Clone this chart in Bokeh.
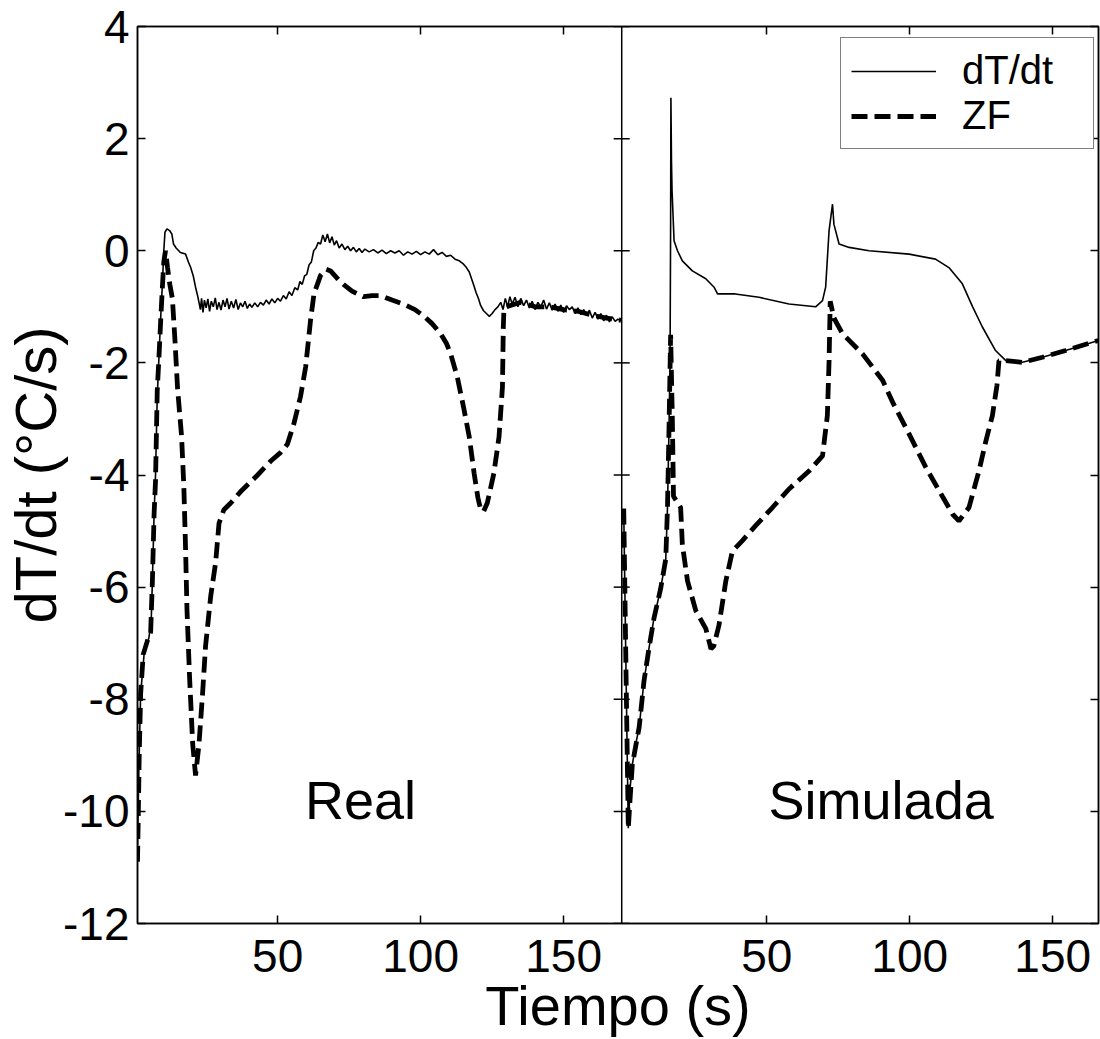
from bokeh.plotting import figure
from bokeh.models import (FixedTicker, LinearAxis, Span, Legend, LegendItem,
                          Range1d, Label)
from bokeh.embed import file_html
from bokeh.resources import INLINE

# ---------------- data ----------------
# Panel "Real"
real_dt_t = [1.0, 1.5, 2.1, 3.3, 5.0, 5.8, 6.2, 6.8, 7.3, 7.9, 8.5, 9.1, 9.7, 10.2, 10.6,
             11.3, 12.2, 13.0, 13.6, 14.5, 16.0, 17.8, 18.8, 19.6, 20.5, 21.3, 22.0, 22.5,
             23.0, 23.4, 23.9, 24.4, 25.0, 25.6, 26.2, 26.8, 27.5, 28.2, 28.8, 29.5, 30.2,
             30.9, 31.6, 32.3, 33.0, 33.8, 34.6, 35.4, 36.2, 37.0, 37.8, 38.6, 39.4, 40.2,
             41.0, 42.0, 43.0, 44.0, 45.0, 46.0, 47.0, 48.0, 49.0, 50.0, 51.0, 52.0, 53.0,
             54.0, 55.0, 56.0, 57.0, 57.8, 58.6, 59.4, 60.2, 61.0, 61.8, 62.6, 63.4, 64.2,
             65.0, 65.8, 66.6, 67.4, 68.2, 69.0, 69.8, 70.6, 71.5, 72.5, 73.5, 74.5, 75.5,
             76.5, 77.5, 78.5, 79.5, 80.5, 82.0, 83.5, 85.0, 86.5, 88.0, 89.5, 91.0, 92.5,
             94.0, 95.5, 97.0, 98.5, 100.0, 101.5, 103.0, 104.5, 106.0, 107.5, 109.0, 110.5,
             112.0, 113.5, 115.0, 116.0, 117.0, 117.8, 118.6, 119.4, 120.2, 121.0, 122.0,
             123.0, 124.0, 125.0, 126.0, 127.0, 128.0, 128.8, 129.6, 130.4, 131.2, 132.0,
             133.0, 134.0, 135.0, 136.0, 137.0, 138.0, 139.0, 140.0, 141.0, 142.0, 143.0,
             144.0, 145.0, 146.0, 147.0, 148.0, 149.0, 150.0, 151.0, 152.0, 153.0, 154.0,
             155.0, 156.0, 157.0, 158.0, 159.0, 160.0, 161.0, 162.0, 163.0, 164.0, 165.0,
             166.0, 167.0, 168.0, 169.0, 170.0]
real_dt_v = [-10.6, -9.2, -7.9, -7.2, -6.9, -6.6, -5.9, -4.7, -4.0, -2.6, -1.9, -1.2, -0.6, 0.0, 0.33,
             0.39, 0.36, 0.30, 0.12, 0.05, -0.03, -0.06, -0.20, -0.30, -0.45, -0.65, -0.80, -0.92,
             -1.05, -0.85, -1.10, -0.88, -1.02, -0.86, -1.08, -0.90, -1.00, -0.84, -1.05, -0.92, -1.06,
             -0.88, -1.00, -0.85, -1.04, -0.90, -1.02, -0.87, -1.05, -0.93, -1.00, -0.90, -1.03, -0.95,
             -1.01, -0.93, -1.00, -0.92, -0.97, -0.88, -0.95, -0.86, -0.93, -0.85, -0.90, -0.80, -0.86,
             -0.73, -0.80, -0.66, -0.70, -0.55, -0.60, -0.45, -0.42, -0.25, -0.20, 0.00, 0.05, 0.15,
             0.12, 0.28, 0.16, 0.30, 0.14, 0.25, 0.10, 0.18, 0.05, 0.12, 0.02, 0.08, 0.00,
             0.06, -0.02, 0.04, -0.03, 0.03, -0.02, 0.02, -0.04, 0.01, -0.05, 0.00, -0.04, 0.00,
             -0.08, -0.02, -0.06, -0.01, -0.07, -0.02, -0.06, 0.02, -0.07, -0.03, -0.10, -0.08,
             -0.15, -0.18, -0.24, -0.30, -0.38, -0.50, -0.62, -0.75, -0.85, -0.98, -1.07,
             -1.12, -1.17, -1.12, -1.05, -1.00, -0.92, -1.05, -0.85, -1.00, -0.82, -0.95,
             -0.83, -1.00, -0.85, -0.98, -0.88, -1.02, -0.90, -1.05, -0.92, -1.00, -0.88,
             -1.04, -0.93, -1.06, -0.95, -1.08, -0.97, -1.10, -0.98, -1.05, -1.00, -1.12,
             -1.02, -1.14, -1.05, -1.15, -1.06, -1.20, -1.10, -1.22, -1.12, -1.25, -1.15,
             -1.27, -1.18, -1.26, -1.22, -1.25]

real_zf_t = [1.0, 1.3, 1.6, 2.1, 3.0, 4.5, 5.6, 6.2, 6.8, 7.3, 7.9, 8.5, 9.1, 9.7, 10.2, 10.8,
             11.5, 12.3, 13.2, 14.1, 15.0, 16.4, 17.2, 17.8, 18.3, 19.2, 20.3, 21.3, 22.5, 23.7,
             24.8, 26.6, 28.3, 29.5, 31.2, 33.6, 37.0, 40.0, 43.0, 47.6, 51.0, 53.4, 55.7, 58.0,
             59.8, 61.5, 62.7, 65.0, 67.0, 68.5, 71.0, 73.0, 76.0, 80.0, 83.0, 86.0, 90.0, 94.0,
             98.0, 101.0, 104.0, 107.0, 109.0, 110.5, 112.8, 115.0, 117.0, 118.7, 120.0, 121.0,
             122.0, 123.3, 125.6, 127.4, 128.6, 128.9, 129.1, 130.0, 135.0, 140.0, 145.0, 150.0,
             155.0, 160.0, 165.0, 170.0]
real_zf_v = [-10.9, -10.0, -9.0, -7.9, -7.2, -6.95, -6.8, -5.9, -4.7, -4.1, -2.5, -1.9, -1.25, -0.65, -0.2, 0.0,
             -0.3, -0.6, -0.85, -1.6, -2.45, -3.3, -4.2, -5.3, -6.4, -7.6, -8.8, -9.36, -8.8, -7.94,
             -7.05, -6.16, -5.57, -4.86, -4.62, -4.5, -4.3, -4.15, -4.0, -3.75, -3.6, -3.45, -3.08, -2.6,
             -2.07, -1.24, -0.77, -0.44, -0.33, -0.36, -0.5, -0.6, -0.72, -0.82, -0.8, -0.8, -0.88, -0.95,
             -1.05, -1.16, -1.3, -1.48, -1.65, -1.84, -2.25, -2.79, -3.32, -3.97, -4.4, -4.62,
             -4.65, -4.5, -3.97, -3.32, -2.43, -1.36, -1.07, -1.0, -0.92, -1.0, -1.0, -1.05,
             -1.08, -1.15, -1.2, -1.24]

# Panel "Simulada"
sim_dt_t = [0.0, 0.8, 1.6, 2.2, 3.0, 4.2, 5.4, 7.1, 8.9, 10.6, 12.9, 14.7, 15.3, 15.8, 16.2,
            16.4, 16.5, 16.7, 16.9, 17.6, 18.8, 20.5, 24.0, 28.7, 31.6, 32.8, 39.0, 47.3, 57.8,
            67.1, 69.5, 70.6, 71.8, 73.0, 73.5, 75.3, 78.8, 85.8, 99.8, 109.0, 113.7, 118.4,
            122.0, 125.4, 130.0, 133.6, 139.4, 146.4, 154.5, 166.0]
sim_dt_v = [-4.6, -7.5, -10.3, -9.6, -9.17, -8.8, -8.5, -7.67, -7.07, -6.55, -6.03, -5.5, -4.58, -3.27, -1.96,
            0.5, 2.73, 1.6, 1.07, 0.18, 0.0, -0.18, -0.36, -0.5, -0.65, -0.77, -0.77, -0.83, -0.95,
            -1.0, -0.89, -0.65, 0.36, 0.83, 0.47, 0.12, 0.06, 0.0, -0.06, -0.15, -0.3, -0.59,
            -1.0, -1.36, -1.78, -1.96, -1.99, -1.9, -1.78, -1.6]

sim_zf_t = [0.0, 0.8, 1.6, 2.2, 3.0, 5.4, 7.1, 8.9, 10.6, 12.9, 14.7, 15.3, 15.8, 16.4, 17.0,
            17.4, 19.9, 20.5, 22.3, 25.2, 28.7, 30.5, 31.5, 33.3, 35.7, 38.0, 41.5, 46.2, 52.0,
            57.8, 64.8, 69.5, 71.2, 71.8, 72.2, 73.5, 76.5, 83.5, 90.5, 94.0, 99.8, 105.6,
            111.4, 115.0, 117.2, 120.7, 124.2, 126.6, 128.9, 130.5, 131.2, 133.6, 139.4, 146.4,
            154.5, 166.0]
sim_zf_v = [-4.6, -7.5, -10.3, -9.8, -9.17, -8.5, -7.67, -7.07, -6.55, -6.03, -5.5, -4.58, -3.27, -1.5, -3.0,
            -4.38, -4.58, -5.24, -5.89, -6.42, -6.74, -7.1, -7.05, -6.68, -5.89, -5.36, -5.17, -4.9, -4.58,
            -4.25, -3.93, -3.66, -2.94, -1.96, -0.9, -1.2, -1.48, -1.84, -2.31, -2.7, -3.27, -3.86,
            -4.38, -4.7, -4.82, -4.58, -3.93, -3.4, -2.94, -2.4, -1.96, -1.96, -1.99, -1.9,
            -1.78, -1.6]

x_tick_values = [50, 100, 150]
x_tick_labels = ["50", "100", "150"]
y_tick_values = [-12, -10, -8, -6, -4, -2, 0, 2, 4]
y_tick_labels = ["-12", "-10", "-8", "-6", "-4", "-2", "0", "2", "4"]
panel_names = ["Real", "Simulada"]
series_names = ["dT/dt", "ZF"]

# ---------------- layout of the two panels on one shared frame ----------------
FONT = "Liberation Sans"
X_START = 1.0        # left edge of panel "Real"
DIVIDER = 170.3      # boundary between panels (in combined x units)
OFFSET = 171.0       # where t=0 of panel "Simulada" sits
X_END = 337.0

p = figure(width=1100, height=1039,
           x_range=Range1d(X_START, X_END), y_range=Range1d(-12, 4),
           output_backend="svg", toolbar_location=None,
           min_border_left=137, min_border_right=2,
           min_border_top=26, min_border_bottom=115)
p.grid.visible = False
p.background_fill_color = "white"
p.border_fill_color = "white"
p.outline_line_color = "black"
p.outline_line_width = 1.5

ticks_comb = x_tick_values + [OFFSET + v for v in x_tick_values]
overrides = {}
for v, lab in zip(x_tick_values, x_tick_labels):
    overrides[v] = lab
    overrides[OFFSET + v] = lab
y_over = {v: lab for v, lab in zip(y_tick_values, y_tick_labels)}


def style_axis(ax, show_labels=True):
    ax.axis_line_color = "black"
    ax.axis_line_width = 1.5
    ax.major_tick_line_color = "black"
    ax.major_tick_line_width = 1.5
    ax.major_tick_in = 8
    ax.major_tick_out = 0
    ax.minor_tick_line_color = None
    ax.major_label_text_font = FONT
    ax.major_label_text_font_size = "46px"
    ax.major_label_text_color = "black"
    ax.axis_label_text_font = FONT
    ax.axis_label_text_font_style = "normal"
    ax.axis_label_text_color = "black"
    if not show_labels:
        ax.major_label_text_font_size = "0px"
        ax.major_label_text_color = None


# bottom axis
xa = p.xaxis[0]
xa.ticker = FixedTicker(ticks=ticks_comb)
xa.major_label_overrides = overrides
style_axis(xa)
xa.major_label_standoff = 16
xa.axis_label = "Tiempo (s)"
xa.axis_label_text_font_size = "56px"
xa.axis_label_standoff = -1

# left axis
ya = p.yaxis[0]
ya.ticker = FixedTicker(ticks=y_tick_values)
ya.major_label_overrides = y_over
style_axis(ya)
ya.major_label_standoff = 8
ya.axis_label = "dT/dt (°C/s)"
ya.axis_label_text_font_size = "58px"
ya.axis_label_standoff = -8

# top and right axes (ticks only)
top = LinearAxis(ticker=FixedTicker(ticks=ticks_comb))
style_axis(top, show_labels=False)
p.add_layout(top, "above")
right = LinearAxis(ticker=FixedTicker(ticks=y_tick_values))
style_axis(right, show_labels=False)
p.add_layout(right, "right")

# divider between the panels, with inward ticks on both sides
p.add_layout(Span(location=DIVIDER, dimension="height", line_color="black", line_width=1.5))
p.segment(x0=[DIVIDER - 2.8] * len(y_tick_values), x1=[DIVIDER + 2.8] * len(y_tick_values),
          y0=y_tick_values, y1=y_tick_values, line_color="black", line_width=1.5)

# curves
r_dt = p.line(real_dt_t, real_dt_v, line_color="black", line_width=1.6)
r_zf = p.line(real_zf_t, real_zf_v, line_color="black", line_width=4.8, line_dash="16 7")
p.line([OFFSET + t for t in sim_dt_t], sim_dt_v, line_color="black", line_width=1.6)
p.line([OFFSET + t for t in sim_zf_t], sim_zf_v, line_color="black", line_width=4.8, line_dash="16 7")

# panel names
p.add_layout(Label(x=79.0, y=-9.8, text=panel_names[0], text_font=FONT,
                   text_font_size="54px", text_align="center", text_baseline="alphabetic",
                   text_color="black"))
p.add_layout(Label(x=OFFSET + 90.0, y=-9.8, text=panel_names[1], text_font=FONT,
                   text_font_size="54px", text_align="center", text_baseline="alphabetic",
                   text_color="black"))

# legend
legend = Legend(items=[LegendItem(label=series_names[0], renderers=[r_dt]),
                       LegendItem(label=series_names[1], renderers=[r_zf])],
                location=(703, 774))
legend.label_text_font = FONT
legend.label_text_font_size = "40px"
legend.label_text_color = "black"
legend.border_line_color = "black"
legend.border_line_width = 1.5
legend.background_fill_alpha = 1.0
legend.padding = 10
legend.spacing = 0
legend.margin = 0
legend.glyph_width = 85
legend.glyph_height = 44
legend.label_height = 44
legend.label_width = 121
legend.label_standoff = 26
p.add_layout(legend)

open("out.html", "w").write(file_html(p, INLINE))
